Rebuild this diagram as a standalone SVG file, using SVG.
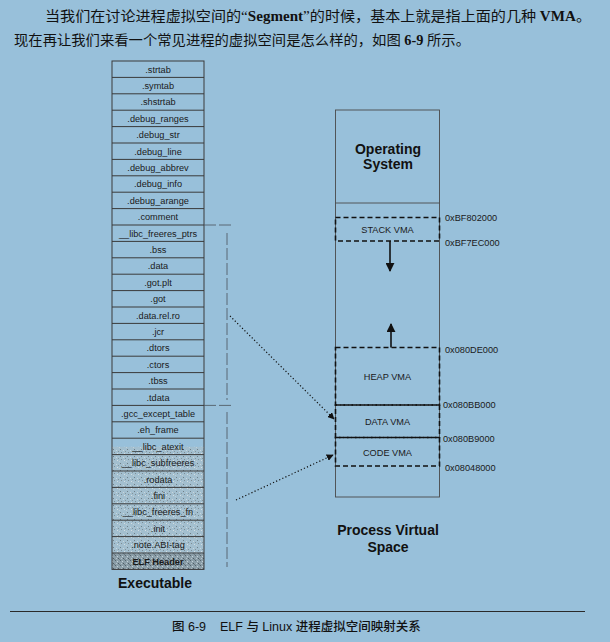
<svg xmlns="http://www.w3.org/2000/svg" width="610" height="642" viewBox="0 0 610 642">
  <defs>
    <style>
      .cn { font-family: "Liberation Serif", "Noto Sans CJK SC", serif; font-size: 14px; fill: #111; }
      .cap { font-family: "Liberation Sans", "Noto Sans CJK SC", sans-serif; font-size: 12.5px; fill: #111; font-weight: 500; }
      .sec { font-family: "Liberation Sans", Arial, sans-serif; font-size: 9.2px; fill: #1a1a1a; text-anchor: middle; }
      .addr { font-family: "Liberation Sans", Arial, sans-serif; font-size: 9.2px; fill: #1a1a1a; }
      .vma { font-family: "Liberation Sans", Arial, sans-serif; font-size: 9.2px; fill: #1a1a1a; text-anchor: middle; }
      .title { font-family: "Liberation Sans", Arial, sans-serif; font-size: 14px; font-weight: bold; fill: #111; text-anchor: middle; }
      .row { fill: none; stroke: #3a3a3a; stroke-width: 1; }
      .frame { fill: none; stroke: #4a4a4a; stroke-width: 0.9; }
      .vbox { fill: none; stroke: #111; stroke-width: 1.6; stroke-dasharray: 5 3; }
      .brace { fill: none; stroke: #4a525a; stroke-width: 0.8; stroke-dasharray: 12 3; }
      .solid { fill: none; stroke: #111; stroke-width: 1.6; }
      .dots { fill: none; stroke: #111; stroke-width: 1.2; stroke-dasharray: 1.2 2.2; }
    </style>
    <pattern id="grain" width="7" height="7" patternUnits="userSpaceOnUse">
      <rect width="7" height="7" fill="#a3bfcf"/>
      <rect x="1" y="1" width="1" height="1" fill="#6f7f88"/>
      <rect x="4" y="2" width="1" height="1" fill="#c9d6dc"/>
      <rect x="2" y="4" width="1" height="1" fill="#7d8c94"/>
      <rect x="5" y="5" width="1" height="1" fill="#d5dee2"/>
      <rect x="6" y="3" width="1" height="1" fill="#85949b"/>
      <rect x="0" y="6" width="1" height="1" fill="#c0ced5"/>
    </pattern>
    <pattern id="grainDark" width="5" height="5" patternUnits="userSpaceOnUse">
      <rect width="5" height="5" fill="#8b9ea8"/>
      <rect x="0" y="0" width="1" height="1" fill="#55636b"/>
      <rect x="2" y="1" width="1" height="1" fill="#c4d0d6"/>
      <rect x="3" y="3" width="1" height="1" fill="#4f5c64"/>
      <rect x="1" y="3" width="1" height="1" fill="#b5c3ca"/>
      <rect x="4" y="4" width="1" height="1" fill="#6b7a82"/>
    </pattern>
    <marker id="head" viewBox="0 0 10 10" refX="9" refY="5" markerWidth="7" markerHeight="7" markerUnits="userSpaceOnUse" orient="auto">
      <path d="M0,0 L10,5 L0,10 Z" fill="#111"/>
    </marker>
    <marker id="headBig" viewBox="0 0 10 10" refX="9" refY="5" markerWidth="9" markerHeight="9" markerUnits="userSpaceOnUse" orient="auto">
      <path d="M0,0 L10,5 L0,10 Z" fill="#111"/>
    </marker>
  </defs>

  <rect width="610" height="642" fill="#98c0da"/>

  <!-- body text above the figure -->
  <text class="cn" x="45" y="21" textLength="546" lengthAdjust="spacingAndGlyphs">当我们在讨论进程虚拟空间的“<tspan font-weight="bold">Segment</tspan>”的时候，基本上就是指上面的几种 <tspan font-weight="bold">VMA</tspan>。</text>
  <text class="cn" x="14" y="45" textLength="456" lengthAdjust="spacingAndGlyphs">现在再让我们来看一个常见进程的虚拟空间是怎么样的，如图 <tspan font-weight="bold">6-9</tspan> 所示。</text>

  <!-- executable file: section table -->
  <g id="executable">
    <rect x="112" y="446.8" width="92" height="106.6" fill="url(#grain)"/>
    <rect x="112" y="553.4" width="92" height="16.4" fill="url(#grainDark)"/>
    <rect class="row" x="112" y="61" width="92" height="508.4"/>
    <g class="row">
      <line x1="112" y1="77.4" x2="204" y2="77.4"/>
      <line x1="112" y1="93.8" x2="204" y2="93.8"/>
      <line x1="112" y1="110.2" x2="204" y2="110.2"/>
      <line x1="112" y1="126.6" x2="204" y2="126.6"/>
      <line x1="112" y1="143" x2="204" y2="143"/>
      <line x1="112" y1="159.4" x2="204" y2="159.4"/>
      <line x1="112" y1="175.8" x2="204" y2="175.8"/>
      <line x1="112" y1="192.2" x2="204" y2="192.2"/>
      <line x1="112" y1="208.6" x2="204" y2="208.6"/>
      <line x1="112" y1="225" x2="204" y2="225"/>
      <line x1="112" y1="241.4" x2="204" y2="241.4"/>
      <line x1="112" y1="257.8" x2="204" y2="257.8"/>
      <line x1="112" y1="274.2" x2="204" y2="274.2"/>
      <line x1="112" y1="290.6" x2="204" y2="290.6"/>
      <line x1="112" y1="307" x2="204" y2="307"/>
      <line x1="112" y1="323.4" x2="204" y2="323.4"/>
      <line x1="112" y1="339.8" x2="204" y2="339.8"/>
      <line x1="112" y1="356.2" x2="204" y2="356.2"/>
      <line x1="112" y1="372.6" x2="204" y2="372.6"/>
      <line x1="112" y1="389" x2="204" y2="389"/>
      <line x1="112" y1="405.4" x2="204" y2="405.4"/>
      <line x1="112" y1="421.8" x2="204" y2="421.8"/>
      <line x1="112" y1="438.2" x2="204" y2="438.2"/>
      <line x1="112" y1="454.6" x2="204" y2="454.6"/>
      <line x1="112" y1="471" x2="204" y2="471"/>
      <line x1="112" y1="487.4" x2="204" y2="487.4"/>
      <line x1="112" y1="503.8" x2="204" y2="503.8"/>
      <line x1="112" y1="520.2" x2="204" y2="520.2"/>
      <line x1="112" y1="536.6" x2="204" y2="536.6"/>
      <line x1="112" y1="553" x2="204" y2="553"/>
    </g>
    <text class="sec" x="158" y="72.5">.strtab</text>
    <text class="sec" x="158" y="88.9">.symtab</text>
    <text class="sec" x="158" y="105.3">.shstrtab</text>
    <text class="sec" x="158" y="121.7">.debug_ranges</text>
    <text class="sec" x="158" y="138.1">.debug_str</text>
    <text class="sec" x="158" y="154.5">.debug_line</text>
    <text class="sec" x="158" y="170.9">.debug_abbrev</text>
    <text class="sec" x="158" y="187.3">.debug_info</text>
    <text class="sec" x="158" y="203.7">.debug_arange</text>
    <text class="sec" x="158" y="220.1">.comment</text>
    <text class="sec" x="158" y="236.5">__libc_freeres_ptrs</text>
    <text class="sec" x="158" y="252.9">.bss</text>
    <text class="sec" x="158" y="269.3">.data</text>
    <text class="sec" x="158" y="285.7">.got.plt</text>
    <text class="sec" x="158" y="302.1">.got</text>
    <text class="sec" x="158" y="318.5">.data.rel.ro</text>
    <text class="sec" x="158" y="334.9">.jcr</text>
    <text class="sec" x="158" y="351.3">.dtors</text>
    <text class="sec" x="158" y="367.7">.ctors</text>
    <text class="sec" x="158" y="384.1">.tbss</text>
    <text class="sec" x="158" y="400.5">.tdata</text>
    <text class="sec" x="158" y="416.9">.gcc_except_table</text>
    <text class="sec" x="158" y="433.3">.eh_frame</text>
    <text class="sec" x="158" y="449.7">__libc_atexit</text>
    <text class="sec" x="158" y="466.1">__libc_subfreeres</text>
    <text class="sec" x="158" y="482.5">.rodata</text>
    <text class="sec" x="158" y="498.9">.fini</text>
    <text class="sec" x="158" y="515.3">__libc_freeres_fn</text>
    <text class="sec" x="158" y="531.7">.init</text>
    <text class="sec" x="158" y="548.1">.note.ABI-tag</text>
    <text class="sec" x="158" y="564.5" font-weight="bold">ELF Header</text>
    <text class="title" x="155" y="588">Executable</text>
  </g>

  <!-- process virtual address space -->
  <g id="process-space">
    <rect class="frame" x="335.5" y="110" width="104" height="387"/>
    <line class="frame" x1="335.5" y1="203" x2="439.5" y2="203"/>
    <text class="title" x="388" y="153.5">Operating</text>
    <text class="title" x="388" y="169">System</text>
    <text class="title" x="388" y="535">Process Virtual</text>
    <text class="title" x="388" y="551.5">Space</text>
  </g>

  <g id="stack-vma">
    <rect class="vbox" x="335.5" y="217.5" width="104" height="23.5"/>
    <text class="vma" x="387.5" y="232.5">STACK VMA</text>
    <text class="addr" x="445" y="221">0xBF802000</text>
    <text class="addr" x="445" y="246">0xBF7EC000</text>
  </g>

  <g id="heap-vma">
    <rect class="vbox" x="335.5" y="347.5" width="104" height="57.5"/>
    <text class="vma" x="387.5" y="379.5">HEAP VMA</text>
    <text class="addr" x="445" y="352.5">0x080DE000</text>
  </g>

  <g id="data-vma">
    <rect class="vbox" x="335.5" y="405" width="104" height="32.5"/>
    <text class="vma" x="387.5" y="424.5">DATA VMA</text>
    <text class="addr" x="443" y="408">0x080BB000</text>
  </g>

  <g id="code-vma">
    <rect class="vbox" x="335.5" y="437.5" width="104" height="28.5"/>
    <text class="vma" x="387.5" y="455.5">CODE VMA</text>
    <text class="addr" x="443" y="442">0x080B9000</text>
    <text class="addr" x="445" y="471">0x08048000</text>
  </g>

  <!-- connectors: segment brackets, growth arrows and mappings -->
  <g id="connectors">
    <line class="brace" x1="204" y1="225" x2="233" y2="225"/>
    <line class="brace" x1="227" y1="233" x2="227" y2="400"/>
    <line class="brace" x1="204" y1="405.4" x2="233" y2="405.4"/>
    <line class="brace" x1="227" y1="412" x2="227" y2="567"/>
    <line class="solid" x1="390" y1="241" x2="390" y2="271" marker-end="url(#headBig)"/>
    <line class="solid" x1="391" y1="347.5" x2="391" y2="324" marker-end="url(#headBig)"/>
    <line class="dots" x1="230" y1="316" x2="334" y2="419" marker-end="url(#head)"/>
    <line class="dots" x1="236" y1="500" x2="333" y2="455" marker-end="url(#head)"/>
  </g>

  <!-- figure caption -->
  <line x1="10" y1="611.5" x2="585" y2="611.5" stroke="#2a2a2a" stroke-width="1"/>
  <text class="cap" x="172" y="631">图 6-9</text>
  <text class="cap" x="220" y="631">ELF 与 Linux 进程虚拟空间映射关系</text>
</svg>
